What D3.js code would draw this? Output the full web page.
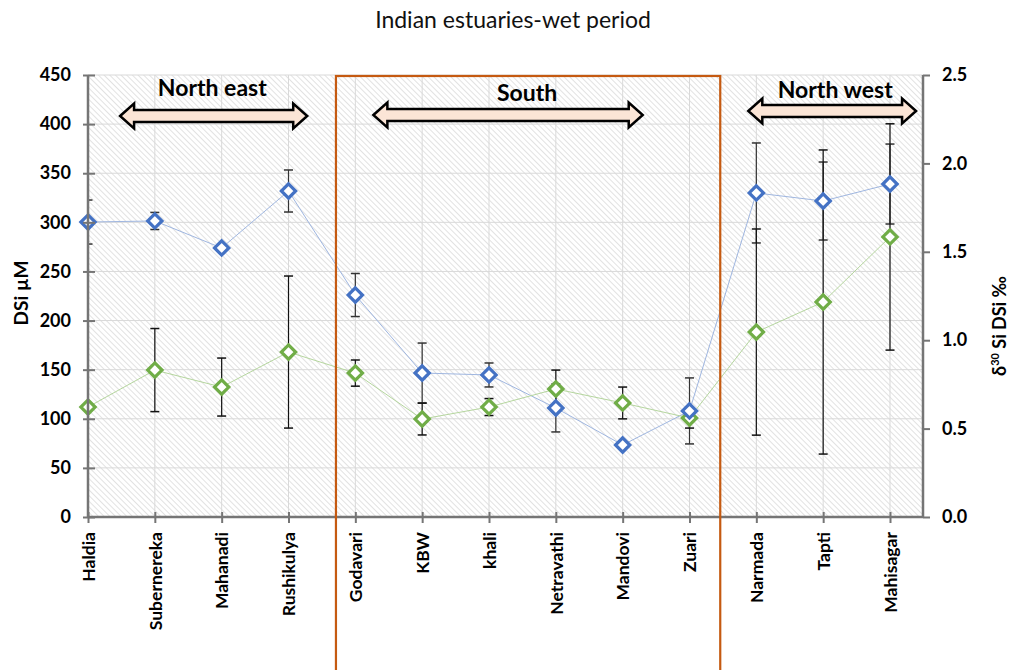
<!DOCTYPE html>
<html>
<head>
<meta charset="utf-8">
<script src="https://cdn.jsdelivr.net/npm/d3@7"></script>
<style>
  body { margin: 0; background: #fff; }
  text { font-family: Lato, "Open Sans", sans-serif; }
</style>
</head>
<body>
<svg width="1010" height="670"></svg>
<script>
// estuaries, left to right
const categories = ['Haldia', 'Subernereka', 'Mahanadi', 'Rushikulya', 'Godavari', 'KBW',
  'khali', 'Netravathi', 'Mandovi', 'Zuari', 'Narmada', 'Tapti', 'Mahisagar']

// DSi (µM), left axis
const dsi    = [300.3, 301.4, 273.9, 331.9, 226, 146.6, 144.6, 111, 73.3, 108, 329.9, 321.7, 339]
const dsiErr = [22.4, 8.7, 0, 21.4, 21.9, 30.5, 12.2, 24.4, 0, 33.6, 50.9, 39.7, 40.7]

// δ30Si DSi (‰), right axis
const d30    = [0.622, 0.831, 0.735, 0.933, 0.814, 0.554, 0.622, 0.724, 0.645, 0.56, 1.046, 1.216, 1.584]
const d30Err = [0, 0.235, 0.164, 0.43, 0.074, 0.09, 0.048, 0.107, 0.09, 0.057, 0.583, 0.86, 0.64]

const leftTicks = [0, 50, 100, 150, 200, 250, 300, 350, 400, 450]
const rightTicks = [0, 0.5, 1.0, 1.5, 2.0, 2.5]

// region labels: arrow extent and label centre in category-index units
const regions = [
  {name: 'North east', from: 0.48, to: 3.28, mid: 1.86, ty: 96, ay: 116},
  {name: 'South', from: 4.27, to: 8.30, mid: 6.57, ty: 101, ay: 115},
  {name: 'North west', from: 9.88, to: 12.39, mid: 11.18, ty: 98, ay: 111}
]

const svg = d3.select('svg')
const pL = 88, pR = 923, pT = 75, pB = 517

const x = d3.scalePoint().domain(categories).range([pL, 890])
const xi = d3.scaleLinear().domain([0, categories.length - 1]).range([pL, 890])
const yL = d3.scaleLinear().domain([0, 450]).range([pB, pT])
const yR = d3.scaleLinear().domain([0, 2.5]).range([pB, pT])

const defs = svg.append('defs')
const pat = defs.append('pattern')
    .attr('id', 'hatch')
    .attr('patternUnits', 'userSpaceOnUse')
    .attr('width', 4).attr('height', 4)
    .attr('patternTransform', 'rotate(-45)')
pat.append('rect').attr('width', 4).attr('height', 4).attr('fill', '#fff')
pat.append('line').attr('x1', 0).attr('y1', 0).attr('x2', 0).attr('y2', 4)
    .attr('stroke', '#d3d3d3').attr('stroke-width', 1.3)

defs.append('clipPath').attr('id', 'plotclip')
  .append('rect').attr('x', pL).attr('y', pT).attr('width', pR - pL).attr('height', pB - pT)

// plot background + grid
svg.append('rect')
    .attr('x', pL).attr('y', pT)
    .attr('width', pR - pL).attr('height', pB - pT)
    .attr('fill', 'url(#hatch)')

svg.append('g').selectAll('line').data(leftTicks.slice(1))
  .enter().append('line')
    .attr('x1', pL).attr('x2', pR)
    .attr('y1', d => yL(d)).attr('y2', d => yL(d))
    .attr('stroke', '#d9d9d9').attr('stroke-width', 1)

svg.append('g').selectAll('line').data(categories.slice(1))
  .enter().append('line')
    .attr('x1', d => x(d)).attr('x2', d => x(d))
    .attr('y1', pT).attr('y2', pB)
    .attr('stroke', '#d9d9d9').attr('stroke-width', 1)

// connecting lines
const lineL = d3.line().x((d, i) => x(categories[i])).y(d => yL(d))
const lineR = d3.line().x((d, i) => x(categories[i])).y(d => yR(d))

svg.append('path').datum(dsi).attr('d', lineL)
    .attr('fill', 'none').attr('stroke', '#9fb6e0').attr('stroke-width', 1)
svg.append('path').datum(d30).attr('d', lineR)
    .attr('fill', 'none').attr('stroke', '#b5d69e').attr('stroke-width', 1)

// error bars
const errors = (vals, errs, scale, color) => {
  const g = svg.append('g').attr('clip-path', 'url(#plotclip)')
  vals.forEach((v, i) => {
    const e = errs[i]
    if (!e) return
    const cx = x(categories[i])
    g.append('line').attr('x1', cx).attr('x2', cx)
        .attr('y1', scale(v - e)).attr('y2', scale(v + e))
        .attr('stroke', color).attr('stroke-width', 1.2)
    ;[v - e, v + e].forEach(w => {
      g.append('line').attr('x1', cx - 4.5).attr('x2', cx + 4.5)
          .attr('y1', scale(w)).attr('y2', scale(w))
          .attr('stroke', color).attr('stroke-width', 1.5)
    })
  })
}
errors(dsi, dsiErr, yL, '#333')
errors(d30, d30Err, yR, '#111')

// diamond markers
const diamond = d3.symbol().type(d3.symbolDiamond2).size(130)
svg.append('g').selectAll('path').data(d30)
  .enter().append('path')
    .attr('d', diamond)
    .attr('transform', (d, i) => `translate(${x(categories[i])},${yR(d)})`)
    .attr('fill', '#fff').attr('stroke', '#70ad47').attr('stroke-width', 3.2)
svg.append('g').selectAll('path').data(dsi)
  .enter().append('path')
    .attr('d', diamond)
    .attr('transform', (d, i) => `translate(${x(categories[i])},${yL(d)})`)
    .attr('fill', '#fff').attr('stroke', '#4472c4').attr('stroke-width', 3.2)

// axes
const axisColor = '#757575'
const gL = svg.append('g').attr('transform', `translate(${pL},0)`)
    .call(d3.axisLeft(yL).tickValues(leftTicks).tickSize(5).tickPadding(12))
gL.select('.domain').remove()
gL.selectAll('.tick line').attr('x1', 7).attr('stroke', axisColor).attr('stroke-width', 2)
gL.selectAll('.tick text').attr('font-size', 18).attr('font-weight', 'bold').attr('fill', '#000')
    .attr('font-family', 'Lato, sans-serif')

const gR = svg.append('g').attr('transform', `translate(${pR},0)`)
    .call(d3.axisRight(yR).tickValues(rightTicks).tickSize(7).tickPadding(12).tickFormat(d3.format('.1f')))
gR.select('.domain').remove()
gR.selectAll('.tick line').attr('stroke', axisColor).attr('stroke-width', 2)
gR.selectAll('.tick text').attr('font-size', 18).attr('font-weight', 'bold').attr('fill', '#000')
    .attr('font-family', 'Lato, sans-serif')

const gX = svg.append('g').attr('transform', `translate(0,${pB})`)
    .call(d3.axisBottom(x).tickSize(6))
gX.select('.domain').remove()
gX.selectAll('.tick line').attr('y1', -5).attr('stroke', axisColor).attr('stroke-width', 2)
gX.selectAll('.tick text')
    .attr('transform', 'rotate(-90)')
    .attr('text-anchor', 'end')
    .attr('x', -15).attr('y', 0).attr('dy', '0.36em')
    .attr('font-size', 17.5).attr('font-weight', 'bold').attr('fill', '#000')
    .attr('font-family', 'Lato, sans-serif')

svg.append('line').attr('x1', pL).attr('x2', pL).attr('y1', pT).attr('y2', pB + 1)
    .attr('stroke', axisColor).attr('stroke-width', 2.5)
svg.append('line').attr('x1', pR).attr('x2', pR).attr('y1', pT).attr('y2', pB + 1)
    .attr('stroke', axisColor).attr('stroke-width', 2.5)
svg.append('line').attr('x1', pL).attr('x2', pR).attr('y1', pB).attr('y2', pB)
    .attr('stroke', axisColor).attr('stroke-width', 2.5)

// South box
svg.append('rect')
    .attr('x', xi(3.71)).attr('y', pT + 1)
    .attr('width', xi(9.46) - xi(3.71)).attr('height', 620)
    .attr('fill', 'none').attr('stroke', '#c55a11').attr('stroke-width', 2.2)

// region arrows + labels
const arrowPath = (x0, x1, yc) => {
  const hb = 6, hh = 12.5, hl = 14
  return `M${x0},${yc} L${x0 + hl},${yc - hh} L${x0 + hl},${yc - hb} L${x1 - hl},${yc - hb}
    L${x1 - hl},${yc - hh} L${x1},${yc} L${x1 - hl},${yc + hh} L${x1 - hl},${yc + hb}
    L${x0 + hl},${yc + hb} L${x0 + hl},${yc + hh} Z`
}
regions.forEach(r => {
  svg.append('path').attr('d', arrowPath(xi(r.from), xi(r.to), r.ay))
      .attr('fill', '#fbe5d6').attr('stroke', '#000').attr('stroke-width', 2.5)
      .attr('stroke-linejoin', 'miter')
  svg.append('text').attr('x', xi(r.mid)).attr('y', r.ty)
      .attr('text-anchor', 'middle').attr('font-size', 23).attr('font-weight', 'bold')
      .text(r.name)
})

// titles
svg.append('text').attr('x', 513).attr('y', 28).attr('text-anchor', 'middle')
    .attr('font-size', 23).attr('fill', '#111')
    .text('Indian estuaries-wet period')

svg.append('text').attr('transform', 'translate(28,293) rotate(-90)')
    .attr('text-anchor', 'middle').attr('font-size', 19).attr('font-weight', 'bold')
    .text('DSi µM')

const rt = svg.append('text').attr('transform', 'translate(1006,326) rotate(-90)')
    .attr('text-anchor', 'middle').attr('font-size', 18).attr('font-weight', 'bold')
rt.append('tspan').text('δ')
rt.append('tspan').attr('font-size', 11).attr('dy', -7).text('30')
rt.append('tspan').attr('dy', 7).text(' Si DSi ‰')
</script>
</body>
</html>
